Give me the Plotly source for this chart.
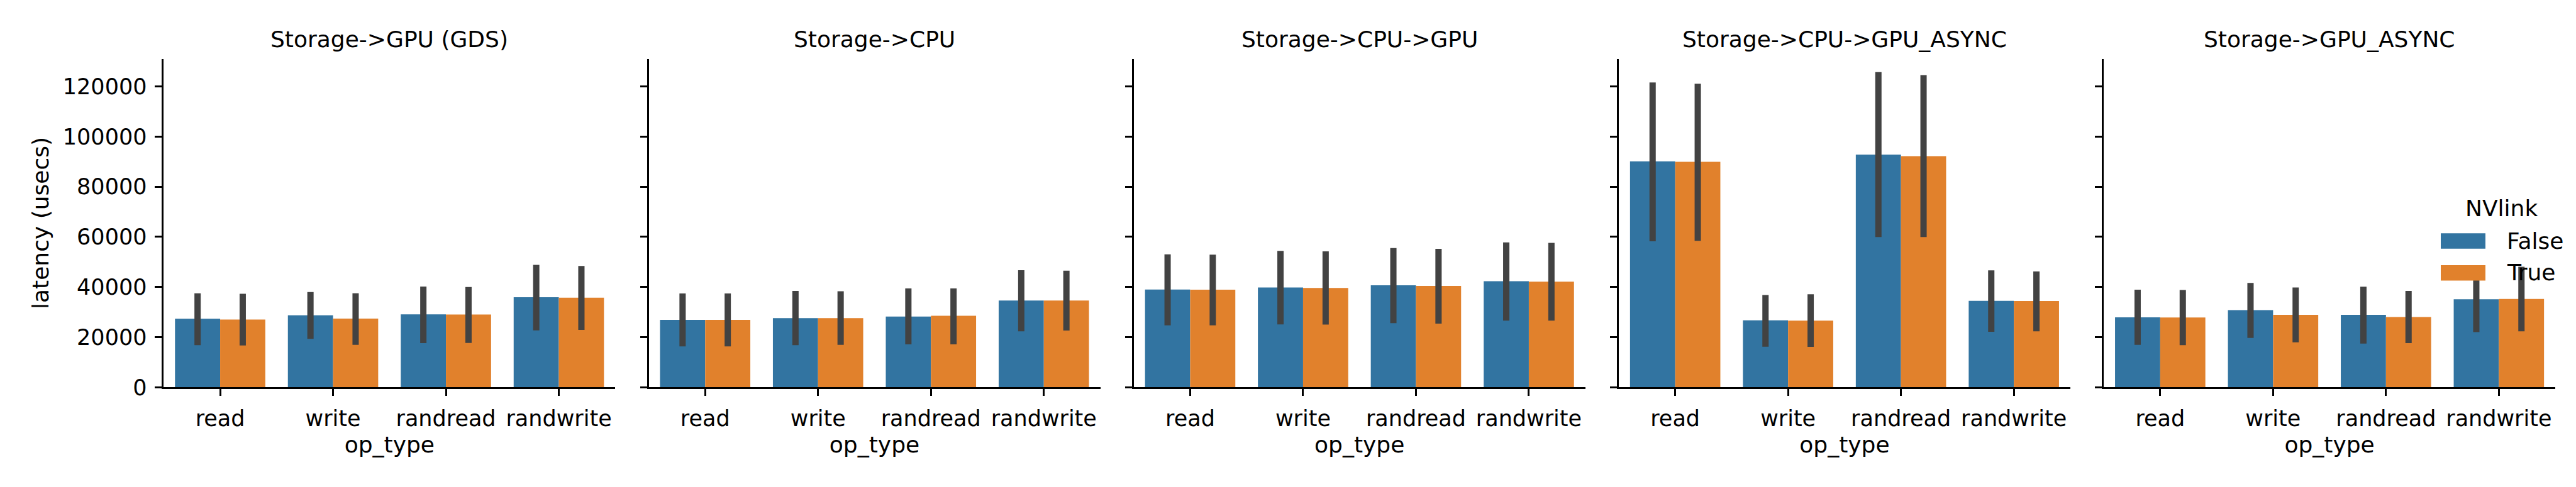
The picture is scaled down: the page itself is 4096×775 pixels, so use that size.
import plotly.graph_objects as go

# ---------------- data ----------------
op_types = ["read", "write", "randread", "randwrite"]
panels = ["Storage->GPU (GDS)", "Storage->CPU", "Storage->CPU->GPU",
          "Storage->CPU->GPU_ASYNC", "Storage->GPU_ASYNC"]
hue_levels = ["False", "True"]

# mean latency (usecs), NVlink=False
false_mean = [
    [27300, 28700, 29100, 35900],
    [26900, 27600, 28200, 34600],
    [39000, 39800, 40700, 42300],
    [90100, 26700, 92800, 34500],
    [27900, 30800, 28900, 35100],
]
false_lo = [
    [16800, 19300, 17600, 22700],
    [16300, 16800, 17100, 22300],
    [24700, 25100, 25600, 26600],
    [58200, 16200, 59900, 22100],
    [16900, 19700, 17400, 22000],
]
false_hi = [
    [37500, 38000, 40200, 48800],
    [37400, 38400, 39400, 46700],
    [53000, 54400, 55500, 57800],
    [121600, 36800, 125700, 46600],
    [38900, 41600, 40100, 46500],
]
# mean latency (usecs), NVlink=True
true_mean = [
    [27000, 27400, 29000, 35700],
    [26900, 27600, 28500, 34600],
    [38900, 39600, 40400, 42100],
    [89900, 26600, 92200, 34400],
    [27800, 28900, 28000, 35200],
]
true_lo = [
    [16700, 16900, 17700, 22900],
    [16300, 16900, 17100, 22600],
    [24700, 25000, 25400, 26600],
    [58400, 16100, 59900, 22300],
    [16800, 17900, 17600, 22300],
]
true_hi = [
    [37300, 37500, 40000, 48400],
    [37400, 38300, 39400, 46500],
    [52900, 54200, 55200, 57600],
    [121100, 37100, 124500, 46200],
    [38800, 39800, 38400, 48100],
]
y_ticks = [0, 20000, 40000, 60000, 80000, 100000, 120000]

# ---------------- style / layout ----------------
W, H = 4096, 775
FONT = "DejaVu Sans"
BLUE = "#3274a1"
ORANGE = "#e1812c"
ERR = "#424242"
colors = [BLUE, ORANGE]

x0_px, pw_px, period_px = 252.3, 718.0, 771.2
y_bot_px, y_top_px = 624.4, 87.9
ydom = [1 - y_bot_px / H, 1 - y_top_px / H]

fig = go.Figure()
layout = dict(
    width=W, height=H,
    margin=dict(l=0, r=0, t=0, b=0),
    paper_bgcolor="white", plot_bgcolor="white",
    font=dict(family=FONT, size=35, color="black"),
    barmode="group", bargap=0.2, bargroupgap=0,
    showlegend=False,
)

annotations = []
for i, name in enumerate(panels):
    sfx = "" if i == 0 else str(i + 1)
    xa, ya = "x" + sfx, "y" + sfx
    means = [false_mean[i], true_mean[i]]
    los = [false_lo[i], true_lo[i]]
    his = [false_hi[i], true_hi[i]]
    for h in range(2):
        fig.add_trace(go.Bar(
            x=op_types, y=means[h], name=hue_levels[h],
            marker=dict(color=colors[h], line=dict(width=0)),
            error_y=dict(type="data", symmetric=False,
                         array=[a - b for a, b in zip(his[h], means[h])],
                         arrayminus=[b - a for a, b in zip(los[h], means[h])],
                         color=ERR, thickness=10, width=0),
            xaxis=xa, yaxis=ya, offsetgroup=str(h),
            legendgroup=hue_levels[h], showlegend=False,
        ))
    xs = (x0_px + i * period_px) / W
    xe = (x0_px + i * period_px + pw_px) / W
    layout["xaxis" + sfx] = dict(
        domain=[xs, xe], anchor=ya, range=[-0.5, 3.5],
        showline=True, linecolor="black", linewidth=2.7,
        ticks="outside", ticklen=11, tickwidth=2.7, tickcolor="black",
        showgrid=False, zeroline=False, ticklabelstandoff=6,
        tickfont=dict(family=FONT, size=35, color="black"),
        title=dict(text="op_type", font=dict(family=FONT, size=36, color="black"),
                   standoff=10),
        fixedrange=True,
    )
    layout["yaxis" + sfx] = dict(
        domain=ydom, anchor=xa, range=[0, 131000],
        tickvals=y_ticks, ticktext=[str(v) for v in y_ticks],
        showticklabels=(i == 0),
        showline=True, linecolor="black", linewidth=2.7,
        ticks="outside", ticklen=11, tickwidth=2.7, tickcolor="black",
        showgrid=False, zeroline=False, ticklabelstandoff=6,
        tickfont=dict(family=FONT, size=35, color="black"),
        fixedrange=True,
    )
    if i == 0:
        layout["yaxis"]["title"] = dict(
            text="latency (usecs)",
            font=dict(family=FONT, size=36, color="black"), standoff=12)
    annotations.append(dict(
        text=name, xref="paper", yref="paper",
        x=(xs + xe) / 2, y=1 - 56 / H, xanchor="center", yanchor="middle",
        showarrow=False, font=dict(family=FONT, size=36, color="black"),
    ))

# legend (NVlink), drawn on top of the last panel like the reference
shapes = []
leg_patch_x = [3873 / W, 3944 / W]
leg_rows_y = [(373, 398), (425, 450)]
leg_text_y = [385, 437]
for h in range(2):
    y1, y2 = leg_rows_y[h]
    shapes.append(dict(type="rect", xref="paper", yref="paper", layer="above",
                       x0=leg_patch_x[0], x1=leg_patch_x[1],
                       y0=1 - y2 / H, y1=1 - y1 / H,
                       fillcolor=colors[h], line=dict(width=0)))
    annotations.append(dict(
        text=hue_levels[h], xref="paper", yref="paper",
        x=3976 / W, y=1 - leg_text_y[h] / H, xanchor="left", yanchor="middle",
        showarrow=False, font=dict(family=FONT, size=36, color="black")))
annotations.append(dict(
    text="NVlink", xref="paper", yref="paper",
    x=3969 / W, y=1 - 332 / H, xanchor="center", yanchor="middle",
    showarrow=False, font=dict(family=FONT, size=36, color="black")))

layout["annotations"] = annotations
layout["shapes"] = shapes
fig.update_layout(**layout)
fig.write_html("out.html", config={"displayModeBar": False})
